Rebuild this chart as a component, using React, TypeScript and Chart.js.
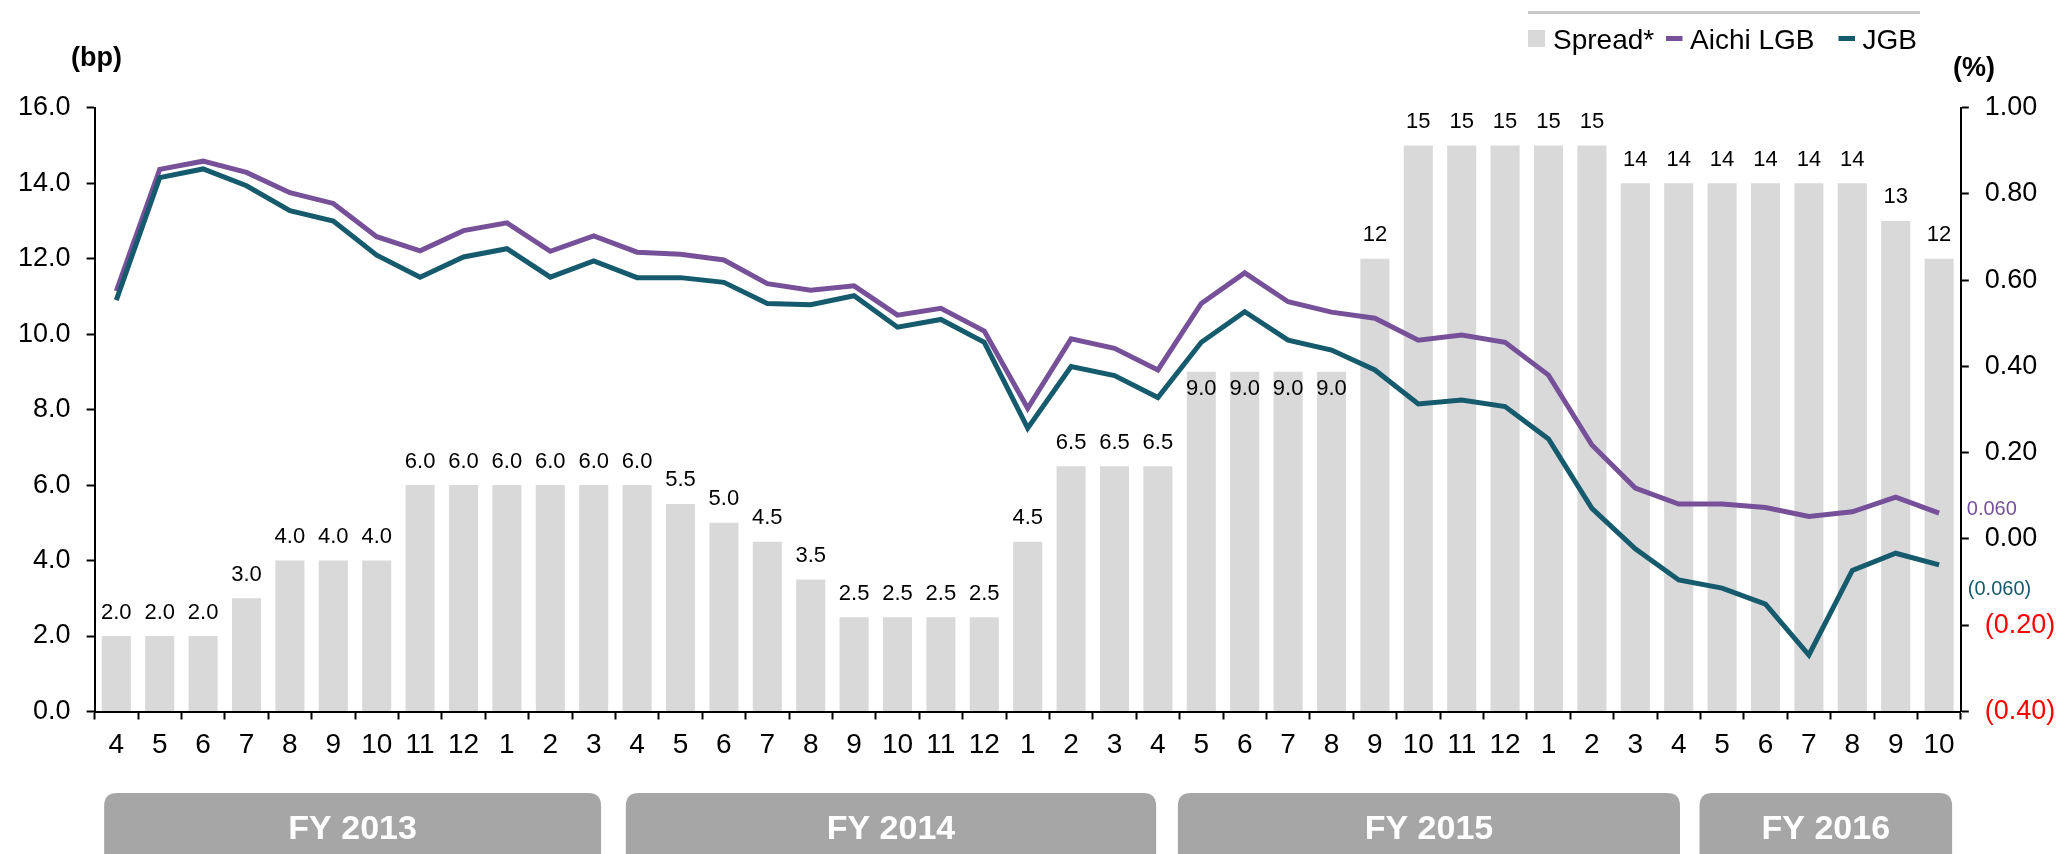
import React, { useEffect, useRef } from "react";
import { Chart, registerables } from "chart.js";

Chart.register(...registerables);

const FONT = '"Liberation Sans", Arial, Helvetica, sans-serif';

// Month labels (FY2013 Apr .. FY2016 Oct)
const months = [
  "4", "5", "6", "7", "8", "9", "10", "11", "12", "1", "2", "3",
  "4", "5", "6", "7", "8", "9", "10", "11", "12", "1", "2", "3",
  "4", "5", "6", "7", "8", "9", "10", "11", "12", "1", "2", "3",
  "4", "5", "6", "7", "8", "9", "10",
];

// Spread (bp), left axis
const spread = [
  2.0, 2.0, 2.0, 3.0, 4.0, 4.0, 4.0, 6.0, 6.0, 6.0, 6.0, 6.0,
  6.0, 5.5, 5.0, 4.5, 3.5, 2.5, 2.5, 2.5, 2.5, 4.5, 6.5, 6.5,
  6.5, 9.0, 9.0, 9.0, 9.0, 12, 15, 15, 15, 15, 15, 14,
  14, 14, 14, 14, 14, 13, 12,
];

// Aichi LGB yield (%), right axis
const aichiLGB = [
  0.575, 0.857, 0.876, 0.85, 0.803, 0.778, 0.701, 0.668, 0.715, 0.733, 0.667, 0.703,
  0.665, 0.66, 0.647, 0.592, 0.577, 0.587, 0.519, 0.535, 0.482, 0.303, 0.464, 0.442,
  0.392, 0.546, 0.617, 0.55, 0.526, 0.512, 0.461, 0.473, 0.456, 0.38, 0.218, 0.118,
  0.081, 0.081, 0.073, 0.052, 0.063, 0.097, 0.06,
];

// JGB yield (%), right axis
const jgb = [
  0.554, 0.838, 0.858, 0.819, 0.761, 0.737, 0.658, 0.607, 0.654, 0.673, 0.607, 0.645,
  0.606, 0.606, 0.595, 0.546, 0.543, 0.564, 0.491, 0.509, 0.456, 0.257, 0.4, 0.379,
  0.328, 0.456, 0.527, 0.461, 0.438, 0.392, 0.313, 0.322, 0.307, 0.232, 0.071, -0.023,
  -0.095, -0.114, -0.151, -0.269, -0.073, -0.033, -0.06,
];

// Fiscal year bands (in category-index units)
const fyLabels = ["FY 2013", "FY 2014", "FY 2015", "FY 2016"];
const fyStartIdx = [-0.28, 11.74, 24.46, 36.48];
const fyEndIdx = [11.17, 23.96, 36.03, 42.3];

// Bars whose value label sits inside the bar top
const insideLabelIdx = [25, 26, 27, 28];

const BAR_COLOR = "#d9d9d9";
const AICHI_COLOR = "#76519a";
const JGB_COLOR = "#155a6d";

function fmtPct(v: number, digits: number) {
  const r = Math.round(v * Math.pow(10, digits)) / Math.pow(10, digits);
  if (r < 0) return "(" + Math.abs(r).toFixed(digits) + ")";
  return Math.abs(r).toFixed(digits);
}

function roundRectPath(ctx: CanvasRenderingContext2D, x: number, y: number, w: number, h: number, r: number) {
  ctx.beginPath();
  ctx.moveTo(x + r, y);
  ctx.lineTo(x + w - r, y);
  ctx.quadraticCurveTo(x + w, y, x + w, y + r);
  ctx.lineTo(x + w, y + h - r);
  ctx.quadraticCurveTo(x + w, y + h, x + w - r, y + h);
  ctx.lineTo(x + r, y + h);
  ctx.quadraticCurveTo(x, y + h, x, y + h - r);
  ctx.lineTo(x, y + r);
  ctx.quadraticCurveTo(x, y, x + r, y);
  ctx.closePath();
}

const overlayPlugin = {
  id: "overlay",
  afterDatasetsDraw(chart: any) {
    const ctx: CanvasRenderingContext2D = chart.ctx;
    const meta = chart.getDatasetMeta(0);
    ctx.save();
    ctx.font = `22px ${FONT}`;
    ctx.fillStyle = "#000";
    ctx.textAlign = "center";
    ctx.textBaseline = "alphabetic";
    meta.data.forEach((el: any, i: number) => {
      const v = spread[i];
      const txt = v >= 10 ? v.toFixed(0) : v.toFixed(1);
      const inside = insideLabelIdx.includes(i);
      const y = inside ? el.y + 23.5 : el.y - 17.5;
      ctx.fillText(txt, el.x, y);
    });
    ctx.restore();
  },
  afterDraw(chart: any) {
    const ctx: CanvasRenderingContext2D = chart.ctx;
    const area = chart.chartArea;
    const xs = chart.scales.x;
    const y1 = chart.scales.y1;
    ctx.save();

    // Axis unit labels
    ctx.fillStyle = "#000";
    ctx.font = `bold 27px ${FONT}`;
    ctx.textAlign = "left";
    ctx.textBaseline = "alphabetic";
    ctx.fillText("(bp)", 71, 66);
    ctx.fillText("(%)", 1953, 76);

    // Legend
    ctx.strokeStyle = "#c8c8c8";
    ctx.lineWidth = 3;
    ctx.beginPath();
    ctx.moveTo(1528, 12.5);
    ctx.lineTo(1920, 12.5);
    ctx.stroke();

    ctx.fillStyle = BAR_COLOR;
    ctx.fillRect(1528, 30, 17, 17);
    ctx.fillStyle = AICHI_COLOR;
    ctx.fillRect(1666, 36, 16.5, 5);
    ctx.fillStyle = JGB_COLOR;
    ctx.fillRect(1838.5, 36, 16.5, 5);

    ctx.fillStyle = "#000";
    ctx.font = `28px ${FONT}`;
    ctx.fillText("Spread*", 1553, 48.5);
    ctx.fillText("Aichi LGB", 1690, 48.5);
    ctx.fillText("JGB", 1862.5, 48.5);

    // End-value labels for lines
    const lastA = aichiLGB[aichiLGB.length - 1];
    const lastJ = jgb[jgb.length - 1];
    ctx.font = `20px ${FONT}`;
    ctx.fillStyle = AICHI_COLOR;
    ctx.fillText(fmtPct(lastA, 3), area.right + 6, y1.getPixelForValue(lastA) + 2);
    ctx.fillStyle = JGB_COLOR;
    ctx.fillText(fmtPct(lastJ, 3), area.right + 7, y1.getPixelForValue(lastJ) + 30);

    // Fiscal year bands
    for (let k = 0; k < fyLabels.length; k++) {
      const x0 = xs.getPixelForValue(fyStartIdx[k]);
      const x1 = xs.getPixelForValue(fyEndIdx[k]);
      ctx.fillStyle = "#a6a6a6";
      roundRectPath(ctx, x0, 793, x1 - x0, 80, 13);
      ctx.fill();
      ctx.fillStyle = "#ffffff";
      ctx.font = `bold 34px ${FONT}`;
      ctx.textAlign = "center";
      ctx.fillText(fyLabels[k], (x0 + x1) / 2, 839);
      ctx.textAlign = "left";
    }

    ctx.restore();
  },
};

export default function App() {
  const canvasRef = useRef<HTMLCanvasElement | null>(null);

  useEffect(() => {
    document.body.style.margin = "0";
    const canvas = canvasRef.current;
    if (!canvas) return;

    const chart = new Chart(canvas, {
      type: "bar",
      data: {
        labels: months,
        datasets: [
          {
            type: "bar",
            label: "Spread*",
            data: spread,
            backgroundColor: BAR_COLOR,
            borderWidth: 0,
            yAxisID: "y",
            barPercentage: 0.67,
            categoryPercentage: 1.0,
            order: 2,
          } as any,
          {
            type: "line",
            label: "Aichi LGB",
            data: aichiLGB,
            borderColor: AICHI_COLOR,
            backgroundColor: AICHI_COLOR,
            borderWidth: 5,
            pointRadius: 0,
            tension: 0,
            fill: false,
            yAxisID: "y1",
            order: 1,
          } as any,
          {
            type: "line",
            label: "JGB",
            data: jgb,
            borderColor: JGB_COLOR,
            backgroundColor: JGB_COLOR,
            borderWidth: 5,
            pointRadius: 0,
            tension: 0,
            fill: false,
            yAxisID: "y1",
            order: 0,
          } as any,
        ],
      },
      options: {
        responsive: false,
        maintainAspectRatio: false,
        animation: false,
        devicePixelRatio: 1,
        layout: { padding: { top: 107.7, left: 0, right: 0, bottom: 0 } },
        plugins: {
          legend: { display: false },
          tooltip: { enabled: false },
          title: { display: false },
        },
        scales: {
          x: {
            type: "category",
            offset: true,
            grid: {
              offset: true,
              drawOnChartArea: false,
              drawTicks: true,
              tickLength: 8,
              tickColor: "#000",
              tickWidth: 2,
            },
            border: { display: true, color: "#000", width: 2 },
            ticks: {
              color: "#000",
              font: { family: FONT, size: 28 },
              padding: 9,
              maxRotation: 0,
              minRotation: 0,
              autoSkip: false,
            },
            afterFit: (s: any) => {
              s.height = 142.5;
            },
          },
          y: {
            type: "linear",
            position: "left",
            min: 0,
            max: 16,
            grid: {
              drawOnChartArea: false,
              drawTicks: true,
              tickLength: 8,
              tickColor: "#000",
              tickWidth: 2,
            },
            border: { display: true, color: "#000", width: 2 },
            ticks: {
              stepSize: 2,
              color: "#000",
              font: { family: FONT, size: 27 },
              padding: 16,
              callback: (v: any) => Number(v).toFixed(1),
            },
            afterFit: (s: any) => {
              s.width = 94.6;
            },
          },
          y1: {
            type: "linear",
            position: "right",
            min: -0.4,
            max: 1.0,
            grid: {
              drawOnChartArea: false,
              drawTicks: true,
              tickLength: 8,
              tickColor: "#000",
              tickWidth: 2,
            },
            border: { display: true, color: "#000", width: 2 },
            ticks: {
              stepSize: 0.2,
              font: { family: FONT, size: 27 },
              padding: 16,
              color: (c: any) => (c.tick && c.tick.value < -1e-6 ? "#ff0000" : "#000000"),
              callback: (v: any) => fmtPct(Number(v), 2),
            },
            afterFit: (s: any) => {
              s.width = 101.2;
            },
          },
        },
      },
      plugins: [overlayPlugin],
    });

    return () => {
      chart.destroy();
    };
  }, []);

  return (
    <div style={{ position: "absolute", left: 0, top: 0, width: 2062, height: 854, background: "#fff" }}>
      <canvas ref={canvasRef} width={2062} height={854} style={{ display: "block", width: 2062, height: 854 }} />
    </div>
  );
}
